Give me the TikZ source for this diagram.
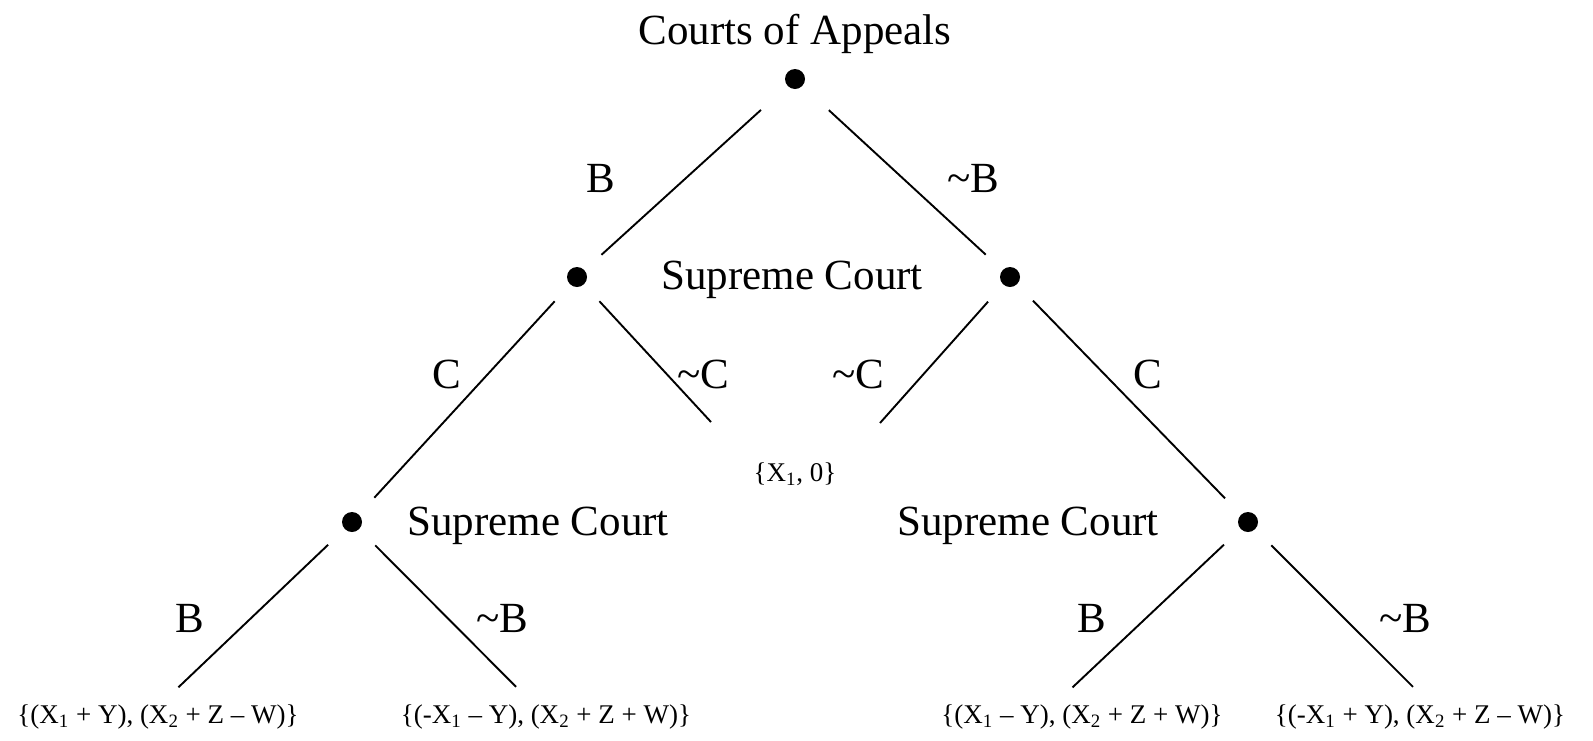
\documentclass[tikz,border=0pt]{standalone}
\usepackage{fontspec}
\setmainfont{Liberation Serif}
\usetikzlibrary{calc}

\begin{document}
\begin{tikzpicture}[x=0.5pt, y=-0.5pt,
    dot/.style={circle, fill=black, inner sep=0pt, minimum size=10pt, outer sep=11.5pt},
    big/.style={font=\fontsize{21.5}{26}\selectfont, anchor=base, inner sep=0pt},
    small/.style={font=\fontsize{13.5}{16}\selectfont, anchor=base, inner sep=0pt},
    branch/.style={line width=0.95pt}]
  \useasboundingbox (0,0) rectangle (1593,740);
  % decision points
  \node[dot] (ca) at (795,79) {};
  \node[dot] (scl) at (577,277) {};
  \node[dot] (scr) at (1010,277) {};
  \node[dot] (scll) at (352,522) {};
  \node[dot] (scrr) at (1248,522) {};
  \coordinate (endl) at (711,422);
  \coordinate (endr) at (880,423);
  % who decides
  \node[big] (tca) at (795,44) {Courts of Appeals};
  \node[big] (tsc) at (792,289) {Supreme Court};
  \node[big] (tscl) at (538,535) {Supreme Court};
  \node[big] (tscr) at (1028,535) {Supreme Court};
  % branch labels
  \node[big] (lb) at (601,192) {B};
  \node[big] (lnb) at (973,192) {\textasciitilde B};
  \node[big] (lc) at (447,388) {C};
  \node[big] (lnc) at (703,388) {\textasciitilde C};
  \node[big] (rnc) at (858,388) {\textasciitilde C};
  \node[big] (rc) at (1148,388) {C};
  \node[big] (llb) at (190,632) {B};
  \node[big] (llnb) at (502,632) {\textasciitilde B};
  \node[big] (rrb) at (1092,632) {B};
  \node[big] (rrnb) at (1405,632) {\textasciitilde B};
  % payoffs
  \node[small] (pay0) at (795,481) {\{X\textsubscript{1}, 0\}};
  \node[small] (payA) at (158,723) {\{(X\textsubscript{1} + Y), (X\textsubscript{2} + Z -- W)\}};
  \node[small] (payB) at (546,723) {\{(-X\textsubscript{1} -- Y), (X\textsubscript{2} + Z + W)\}};
  \node[small] (payC) at (1082,723) {\{(X\textsubscript{1} -- Y), (X\textsubscript{2} + Z + W)\}};
  \node[small] (payD) at (1420,723) {\{(-X\textsubscript{1} + Y), (X\textsubscript{2} + Z -- W)\}};
  % branches
  \draw[branch, shorten <=6.5pt] (ca) -- (scl);
  \draw[branch, shorten <=6.5pt] (ca) -- (scr);
  \draw[branch] (scl) -- (scll);
  \draw[branch] (scl) -- (endl);
  \draw[branch] (scr) -- (endr);
  \draw[branch] (scr) -- (scrr);
  \draw[branch, shorten >=12pt] (scll) -- ($(payA.north)+(3,0)$);
  \draw[branch, shorten >=12pt] (scll) -- ($(payB.north)+(-13,0)$);
  \draw[branch, shorten >=12pt] (scrr) -- ($(payC.north)+(-27,0)$);
  \draw[branch, shorten >=12pt] (scrr) -- ($(payD.north)+(10,0)$);
\end{tikzpicture}
\end{document}
